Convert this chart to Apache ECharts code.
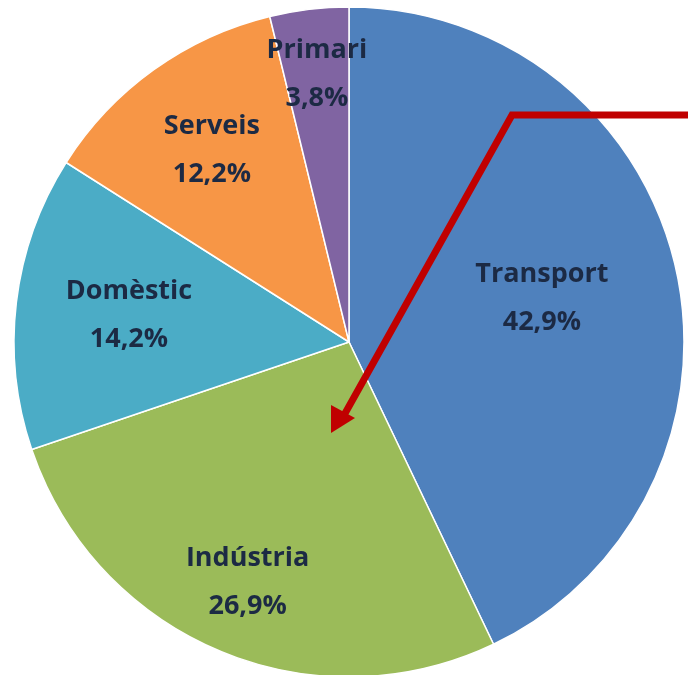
<!DOCTYPE html>
<html>
<head>
<meta charset="utf-8">
<title>Consum per sectors</title>
<script src="https://cdn.jsdelivr.net/npm/echarts@6/dist/echarts.min.js"></script>
<style>
  html, body { margin: 0; padding: 0; background: #fff; }
  #chart { width: 688px; height: 675px; }
</style>
</head>
<body>
<div id="chart"></div>
<script>
// sectors, clockwise from 12 o'clock
const sectors = ['Transport', 'Indústria', 'Domèstic', 'Serveis', 'Primari']
const shares = [42.9, 26.9, 14.2, 12.2, 3.8]
const colors = ['#4f81bd', '#9bbb59', '#4bacc6', '#f79646', '#8064a2']

// how far out each label sits, as a fraction of the radius
const labelFrac = [0.58, 0.765, 0.65, 0.69, 0.79]

const cx = 349, cy = 342, R = 335

const chart = echarts.init(document.getElementById('chart'))

chart.setOption({
  backgroundColor: '#fff',
  animation: false,
  series: [{
    type: 'pie',
    center: [cx, cy],
    radius: [0, R],
    startAngle: 90,
    clockwise: true,
    data: sectors.map((s, i) => ({
      name: s,
      value: shares[i],
      itemStyle: { color: colors[i] }
    })),
    itemStyle: { borderColor: '#fff', borderWidth: 1.5 },
    label: {
      position: 'inner',
      formatter: p => p.name + '\n' + p.value.toFixed(1).replace('.', ',') + '%',
      color: '#1c2a44',
      fontFamily: 'Open Sans',
      fontWeight: 'bold',
      fontSize: 27,
      lineHeight: 48
    },
    labelLayout: params => {
      const r = params.labelRect
      const lx = r.x + r.width / 2, ly = r.y + r.height / 2
      const k = labelFrac[params.dataIndex] / 0.5
      return { x: cx + (lx - cx) * k, y: cy + (ly - cy) * k, align: 'center', verticalAlign: 'middle' }
    },
    emphasis: { disabled: true }
  }],
  // red arrow annotation
  graphic: [
    {
      type: 'polyline',
      shape: { points: [[690, 115], [512, 115], [343, 417]] },
      style: { stroke: '#c00000', lineWidth: 7, fill: null, lineJoin: 'miter' },
      z: 100
    },
    {
      type: 'polygon',
      shape: { points: [[331, 433], [331, 405], [355, 418]] },
      style: { fill: '#c00000' },
      z: 100
    }
  ]
})
</script>
</body>
</html>
